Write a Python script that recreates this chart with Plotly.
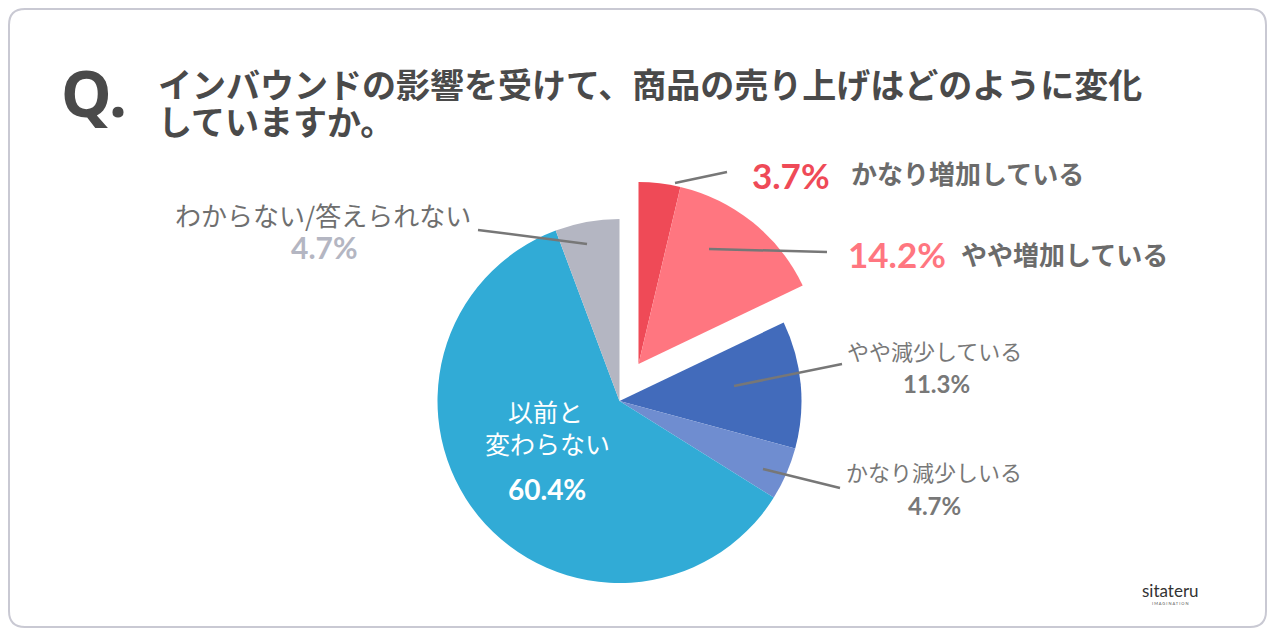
import plotly.graph_objects as go

# browser body margin of 8px is compensated: figure occupies page pixels 8..1267 x 8..628
OFF = 8
W, H = 1275 - 2 * OFF, 636 - 2 * OFF

# ---- data ----
categories = ["かなり増加している", "やや増加している", "やや減少している",
              "かなり減少しいる", "以前と変わらない", "わからない/答えられない"]
slice_values = [3.7, 14.2, 11.3, 4.7, 60.4, 5.7]   # drawn slice sizes
pct_labels = ["3.7%", "14.2%", "11.3%", "4.7%", "60.4%", "4.7%"]
colors = ["#EF4A57", "#FF7680", "#426BBB", "#6F8DD0", "#31ABD6", "#B4B6C2"]
title_lines = ["インバウンドの影響を受けて、商品の売り上げはどのように変化", "していますか。"]

JP = "Noto Sans CJK JP"
NUM = "Lato, Noto Sans CJK JP"


def px(x):
    return (x - OFF) / W


def py(y):
    return 1 - (y - OFF) / H


cx, cy, r = 619.5, 401, 182
dx_pull, dy_pull = 19, -37  # pixel offset of the pulled group

fig = go.Figure()

main_colors = ["rgba(0,0,0,0)", "rgba(0,0,0,0)"] + colors[2:]
fig.add_trace(go.Pie(
    values=slice_values, labels=categories, sort=False, direction="clockwise",
    rotation=0, textinfo="none", hoverinfo="skip",
    marker=dict(colors=main_colors, line=dict(width=0)),
    domain=dict(x=[px(cx - r), px(cx + r)], y=[py(cy + r), py(cy - r)]),
    showlegend=False,
))

pulled_vals = slice_values[:2] + [sum(slice_values[2:])]
fig.add_trace(go.Pie(
    values=pulled_vals, labels=categories[:2] + ["rest"], sort=False,
    direction="clockwise", rotation=0, textinfo="none", hoverinfo="skip",
    marker=dict(colors=colors[:2] + ["rgba(0,0,0,0)"], line=dict(width=0)),
    domain=dict(x=[px(cx - r + dx_pull), px(cx + r + dx_pull)],
                y=[py(cy + r + dy_pull), py(cy - r + dy_pull)]),
    showlegend=False,
))

shapes = []
x0, y0, x1, y1, rad = 9, 9, 1266, 627, 16
path = (f"M {px(x0+rad)},{py(y0)} L {px(x1-rad)},{py(y0)} Q {px(x1)},{py(y0)} {px(x1)},{py(y0+rad)} "
        f"L {px(x1)},{py(y1-rad)} Q {px(x1)},{py(y1)} {px(x1-rad)},{py(y1)} "
        f"L {px(x0+rad)},{py(y1)} Q {px(x0)},{py(y1)} {px(x0)},{py(y1-rad)} "
        f"L {px(x0)},{py(y0+rad)} Q {px(x0)},{py(y0)} {px(x0+rad)},{py(y0)} Z")
shapes.append(dict(type="path", xref="paper", yref="paper", path=path,
                   line=dict(color="#C9C9D3", width=2), fillcolor="rgba(0,0,0,0)"))

leaders = [((675, 183), (727, 172)), ((709, 249), (827, 252)),
           ((734, 386), (842, 364)), ((763, 469), (840, 488)),
           ((587, 244), (478, 230))]
for (a, b) in leaders:
    shapes.append(dict(type="line", xref="paper", yref="paper",
                       x0=px(a[0]), y0=py(a[1]), x1=px(b[0]), y1=py(b[1]),
                       line=dict(color="#777777", width=2.5)))

ann = []


def add(text, x, y, size, color, xanchor="center", bold=False, family=JP, height=None):
    d = dict(text=f"<b>{text}</b>" if bold else text, x=px(x), y=py(y),
             xref="paper", yref="paper", xanchor=xanchor, yanchor="middle",
             showarrow=False, font=dict(size=size, color=color, family=family))
    if height:
        d["height"] = height
    ann.append(d)


add("Q.", 59, 92, 64, "#4A4A4A", xanchor="left", bold=True, family="Noto Sans")
add(title_lines[0], 156, 84, 34, "#4A4A4A", xanchor="left", bold=True, height=35)
add(title_lines[1], 156, 120, 34, "#4A4A4A", xanchor="left", bold=True, height=35)

add(pct_labels[0], 750, 175, 35, colors[0], xanchor="left", bold=True, family=NUM)
add(categories[0], 849, 172, 26, "#6B6B6B", xanchor="left", bold=True)
add(pct_labels[1], 846, 254, 35, colors[1], xanchor="left", bold=True, family=NUM)
add(categories[1], 959, 253, 26, "#6B6B6B", xanchor="left", bold=True)

add(categories[2], 935, 350, 22, "#787878")
add(pct_labels[2], 936, 383, 24, "#787878", bold=True, family=NUM)
add(categories[3], 934, 471, 22, "#787878")
add(pct_labels[3], 935, 505, 24, "#787878", bold=True, family=NUM)

add(categories[5], 323, 214, 26, "#6F6F6F")
add(pct_labels[5], 324, 247, 30, colors[5], bold=True, family=NUM)

add("以前と", 545, 411, 25, "white", height=30)
add("変わらない", 547, 443, 25, "white", height=30)
add(pct_labels[4], 547, 489, 28, "white", bold=True, family=NUM)

add("sitateru", 1170, 590, 17, "#333333", family="Lato")
add("I M A G I N A T I O N", 1170, 603, 4, "#555555", family="Lato")

fig.update_layout(width=W, height=H, margin=dict(l=0, r=0, t=0, b=0),
                  paper_bgcolor="white", plot_bgcolor="white",
                  shapes=shapes, annotations=ann, showlegend=False)

fig.write_html("out.html")
